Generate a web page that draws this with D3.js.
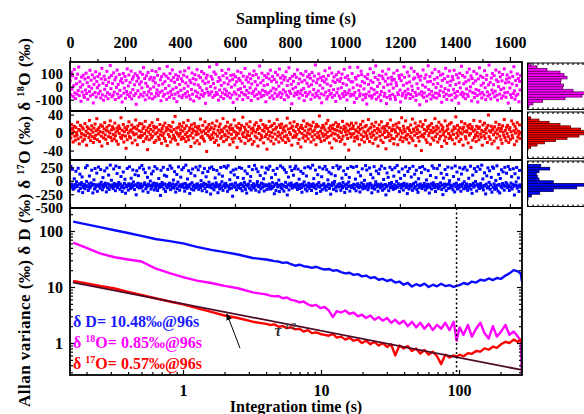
<!DOCTYPE html>
<html>
<head>
<meta charset="utf-8">
<script src="https://cdnjs.cloudflare.com/ajax/libs/d3/7.8.5/d3.min.js"></script>
<style>
body { margin: 0; background: #fff; }
text { font-family: "Liberation Serif", "Times New Roman", serif; font-weight: bold; }
</style>
</head>
<body>
<div id="chart"></div>
<script>
// ---- time series (sub-sampled, one value every sampleInterval seconds) ----
const sampleInterval = 2.05;

const d18O = [
  45, -62, 110, -18, 83, -75, 7, 132, -48, -91, 64, 22, -57, 96, -30, 151, -69, 38, -4, -112, 74, -41, 15, 88, -66,
  -83, 59, -26, 104, -52, 31, -97, 71, 2, -38, 126, -71, 50, -12, 91, -60, -125, 18, 67, -45, 115, -79, 40, -8, 78,
  -54, 12, 98, -35, -87, 60, 141, -63, 27, -104, 81, -20, 55, -73, 9, 118, -46, -92, 35, 69, -58, 163, -15, 86, -77,
  24, -65, 107, -42, 52, -99, 73, -5, 128, -56, 17, -84, 94, -28, 43, -70, 61, -118, 30, 102, -50, -11, 79, -89, 48,
  -37, 137, -61, 6, 90, -76, 33, -47, 120, -94, 58, -22, 76, -68, 14, 99, -53, -135, 42, 85, -31, 66, -80, 19, 112,
  -59, 37, -9, 95, -72, 147, -44, 63, -101, 26, 84, -64, 3, 109, -39, -86, 57, -17, 72, -55, 124, -93, 46, -2, 68,
  -78, 29, 116, -51, -25, 87, -67, 11, 139, -43, 53, -108, 77, -33, 21, -74, 97, -60, 39, -14, 82, -97, 156, -49, 65,
  8, -81, 101, -36, 47, -62, 129, -19, 70, -90, 34, -57, 92, -7, -115, 56, -44, 80, -71, 16, 114, -28, 61, -85, 41,
  -66, 89, -13, 122, -53, 28, -79, 75, -40, 5, 144, -69, 49, -96, 32, -21, 106, -58, 62, -110, 19, 93, -34, 54, -75,
  131, -47, 13, 83, -88, -6, 70, -61, 117, -30, 44, -73, 100, -52, 25, -128, 66, -16, 88, -42, 36, -65, 152, -55, 1,
  79, -39, 58, -82, 24, 113, -68, -10, 96, -45, 171, -59, 40, -103, 71, -26, 51, -77, 10, 125, -48, 84, -91, 30, -19,
  -60, 103, -34, 66, -72, 20, 134, -50, 45, -86, 87, -3, -63, 57, -121, 92, -41, 14, 76, -56, 38, -95, 119, -23, 63,
  -70, 48, -15, 108, -44, 27, -99, 81, -57, 0, 140, -64, 53, -29, 74, -84, 35, -47, 97, -9, 61, -106, 21, -52, 86,
  -36, 121, -73, 39, -18, 94, -61, 12, -92, 68, -43, 159, -54, 30, -78, 104, -27, 49, -67, 8, 85, -38, -116, 72, -58,
  16, 99, -46, 60, -85, 127, -32, 42, -69, 78, -11, -93, 55, -50, 110, -20, 34, -75, 90, -62, 4, 136, -44, 67, -83,
  28, -56, 84, -24, 52, -100, 73, -40, 115, -65, 9, 46, -79, 146, -35, 63, -52, 18, -131, 80, -16, 41, -71, 95, -48,
  -4, 72, -60, 130, -37, 23, -88, 59, -53, 101, -27, 37, -66, 89, -14, -107, 50, -45, 118, -74, 26, 76, -57, 3, 93,
  -41, 65, -97, 15, 109, -63, 44, -21, 82, -80, 167, -49, 31, -68, 57, -33, 98, -86, 10, 69, -55, -124, 47, -12, 78,
  -64, 36, 123, -42, 58, -94, 20, -76, 86, -30, 143, -59, 7, -51, 105, -82, 43, -23, 75, -67, 32, -113, 91, -46, 53,
  -17, 111, -70, 40, -89, 64, -8, 97, -54, 25, -76, 133, -37, 70, -61, 13, -102, 83, -49, 55, -26, 149, -72, 38, -58,
  102, 37, -8, -66, -121, -44, 71, 58, -90, 13, 149, 84, -29, -72, -55, 6, 119, 92, 40, -101, -63, -17, 29, 77, -84,
  -58, -133, 62, 95, 18, -40, -71, 138, 46, -12, -88, -69, 33, 108, -24, -57, 71, 160, -96, -45, 2, 54, -79, 87, 25,
  -62, -107, -37, 81, 119, 61, -5, -74, -51, 42, 96, -130, -82, 15, 66, 135, -33, -68, -94, 20, 73, 49, -59, -11, 104,
  57, -76, -99, 31, 8, 124, -47, -61, 86, 64, -26, -117, 47, 91, -70, -52, 11, 153, 72, -35, -86, -64, 27, 112, -19,
  -53, 83, 36, -91, -60, 142, 4, -28, -78, 59, 117, 68, -44, -105, -67, 23, 96, -13, 75, -56, -139, 50, 81, -39, -65,
  12, 129, -82, -48, 65, -3, 90, -111, -73, 37, 161, -22, -58, 78, 41, -95, -36, 106, -66, 19, -80, 57, 133, -49, -7,
  -87, 70, 24, -54, 116, -68, -31, 89, 3, -120, 48, 97, -41, -75, 62, -15, 141, -57, -98, 34, 80, -27, -69, 121, 9,
  43, -63, -104, 77, 55, -20, 126, -48, -85, 18, 92, -71, -37, 68, -127, 30, 103, -9, -59, 157, -43, 86, -77, 22, -54,
  74, -92, 38, -17, 109, -60, -74, 51, 136, -33, -1, 83, -109, 63, -46, 26, 118, -83, -52, 45, -21, 99, -68, -118, 60,
  -30, 145, -56, 82, 11, -87, -45, 71, 27, -64, 123, -8, -99, 56, 88, -40, -72, 14, 166, -61, 33, -93, 67, -26, 101,
  -49, 15, 85, -78, -35, 128, 52, -66, -103, 39, 0, 111, -57, 76, -22, -89, 45, 94, -71, -12, 137, -47, 29, -81, 58,
  90, -43, -126, 35, 68, -10, -62, 114, -84, 21, 79, -53, 154, -32, -96, 48, -70, 10, 98, -58, 63, -116, 41, -25, 85
];

const d17O = [
  5, -12, 18, -3, 9, -21, 2, 14, -8, -17, 11, 0, -6, 23, -14, 7, -25, 4, 16, -10, -2, 12, -19, 8, -5,
  -15, 20, -7, 3, -28, 13, -1, 9, -11, 27, -4, -18, 6, 15, -9, 1, -22, 10, -13, 19, -6, 4, 31, -16, 7,
  -3, 11, -20, 2, 17, -8, -30, 14, 0, -12, 8, 22, -5, -15, 5, 12, -24, 3, -9, 16, -1, 26, -11, 6, -18,
  13, -4, 8, -14, 21, -7, 1, -19, 10, 4, -26, 15, -2, 9, -10, 33, -13, 5, -6, 18, -21, 2, 11, -8, -35,
  7, -16, 14, -1, 24, -9, 3, -12, 6, 17, -23, 0, 10, -5, 12, -17, 28, -3, 8, -27, 15, -10, 4, 20, -7,
  -11, 2, 19, -6, 9, -20, 13, -2, 25, -14, 5, -9, -38, 11, 1, -16, 16, -4, 7, -12, 22, -8, 3, 14, -22,
  10, -3, -18, 12, 0, 29, -10, 6, -15, 18, -5, 3, -24, 9, -7, 15, -1, -13, 21, -19, 4, 11, -29, 8, -4,
  16, -9, 5, -21, 13, 2, -14, 23, -6, 7, -11, 36, -17, 1, 10, -3, -26, 12, -8, 19, -2, 6, -15, 14, -10,
  3, 22, -13, 9, -4, -20, 15, 0, -9, 27, -16, 5, 11, -7, -31, 17, -1, 8, -12, 4, 20, -23, 13, -5, 2,
  -18, 10, -3, 14, -25, 6, 30, -11, 1, -8, 16, -14, 4, -19, 24, -2, 9, -42, 12, -6, 3, 18, -10, 7, -15,
  11, -5, 21, -12, 0, 8, -22, 15, -3, -17, 26, -8, 5, -28, 13, -1, 19, -13, 6, -9, 2, 31, -20, 10, -4,
  -7, 14, -16, 4, 23, -10, -1, 12, -27, 7, 17, -4, -14, 9, -21, 3, 28, -12, 1, 15, -6, -33, 11, -2, 20,
  -13, 5, 9, -19, 16, -3, 34, -9, 0, 12, -24, 6, -11, 19, -5, 2, -18, 13, -7, 24, -15, 8, -1, -26, 10,
  4, -20, 17, -8, 1, 22, -12, 7, -30, 14, -2, 10, -16, 27, -6, -11, 5, 18, -23, 3, 11, -9, 15, -4, -37,
  9, -14, 2, 25, -7, 13, -19, 0, 16, -10, 6, -25, 20, -3, 8, -15, 12, 29, -8, 1, -21, 17, -5, 11, -12,
  19, -1, -17, 6, 12, -9, 3, -22, 15, -6, 32, -13, 8, -18, 0, 21, -4, 10, -28, 14, -11, 5, 24, -7, 2,
  -10, 13, -4, 18, -24, 7, -15, 1, 11, -32, 16, -2, 9, -12, 26, -6, 4, -19, 13, -8, 20, -1, -14, 6, 17,
  -3, 8, -21, 15, -9, 2, 23, -16, 5, -5, 12, -27, 18, -11, 0, 14, -7, 37, -13, 3, -20, 10, -2, 16, -8,
  12, -17, 6, -4, 20, -12, 1, 27, -9, 10, -23, 4, 15, -6, -34, 9, -1, 17, -14, 7, -3, 22, -18, 5, 13,
  -6, 18, -11, 3, -20, 11, 0, -15, 25, -8, 7, 14, -26, 2, 10, -5, 19, -13, 4, -39, 16, -2, 8, -10, 21,
  -4, 9, 15, -2, -19, -11, 6, 21, 3, -8, -14, 12, 0, -27, 7, 18, -5, -16, 10, 25, -9, 2, -21, 13, -1,
  16, -7, -13, 4, 29, 8, -20, -3, 11, -10, 19, 1, -24, -6, 14, 5, -15, 23, -12, -1, 9, -30, 6, 17, -8,
  2, -17, 24, 10, -5, -22, 13, 0, 7, -11, -36, 15, 3, 20, -9, -2, 11, -18, 28, -6, 4, -13, 8, 16, -25,
  -14, 6, 1, 19, -8, 12, -27, -3, 22, 9, -16, 4, -10, 33, -1, -20, 14, 7, -12, 2, 26, -7, -15, 10, -4,
  11, -23, 5, -9, 17, 0, -13, 30, -18, 8, 3, -6, 21, -29, 12, -2, 6, -11, 15, -19, 1, 24, -8, -40, 13,
  -5, 18, -10, 7, -2, 27, -16, 4, -22, 13, 9, -7, -1, 16, -26, 5, 20, -12, 0, 11, -17, 3, 31, -9, 6,
  14, -3, -21, 10, 23, -14, 2, -8, 17, -31, 7, 12, -5, 1, -18, 26, -10, 4, -24, 15, 8, -2, -13, 19, -6,
  -11, 22, 3, -16, 6, -4, 13, -25, 9, 35, -12, -1, 16, -7, 5, -20, 11, 0, -15, 24, -3, 8, -28, 12, 2,
  20, -9, -14, 4, 1, 15, -23, 10, -6, 18, -2, -33, 8, 13, -17, 3, 27, -11, 6, -5, -20, 14, 0, -8, 9,
  -16, 12, 25, -3, -10, 5, -28, 17, 2, -7, 21, -13, 7, -1, 11, -22, 16, 39, -9, 4, -15, 1, 14, -25, 6,
  8, -5, -19, 13, 0, 23, -12, 6, -3, -34, 10, 18, -8, 3, -16, 9, -24, 15, 1, -6, 29, -11, 5, -18, 12,
  -2, 16, -9, -22, 7, 11, -15, 2, 26, -6, -12, 19, 4, -27, 14, -1, 8, -19, 22, -10, 3, -4, 17, -13, 0
];

const dD = [
  -82, 265, -121, -63, 214, -158, -95, 37, -134, -71, 176, -18, -108, -87, 232, -189, -56, 123, -143, -77, -35, 71, -219, -99, -126,
  -68, -147, 242, -91, -12, 281, -113, -179, -59, 88, -131, -104, -40, 196, -83, -225, -66, 18, -152, 227, -118, -74, 142, -195, -89,
  254, -101, -62, -138, 208, -28, -85, -167, 59, -119, -72, 183, -44, -93, -206, 236, -129, -57, 106, -161, -80, 290, -110, 9, -96,
  -76, -145, 219, -52, -103, -184, 273, -67, 134, -125, -88, -31, 247, -157, -61, 78, -116, -199, -94, 163, -136, -49, 27, -231, -79,
  -114, 228, -86, -173, -55, 259, -98, -142, 47, -65, -120, 201, -22, -90, -162, 113, -73, -260, 186, -107, -47, 95, -133, 241, -84,
  -58, -127, 283, -100, -190, 215, -70, -39, 151, -148, -81, -112, 64, -214, -63, 238, -92, -6, -155, 128, -117, -75, 178, -43, -170,
  262, -97, -139, -54, 223, -181, -87, 41, -124, -66, -272, 194, -109, -33, -78, 249, -150, 102, -60, -198, -95, 83, -130, 211, -71,
  -105, -46, 276, -164, -83, 233, -122, -58, 14, -137, 169, -91, -210, -69, 117, -146, -25, 257, -101, -176, -74, 66, -115, 205, -86,
  -61, 244, -128, -193, -50, 289, -93, -140, 33, -79, 187, -118, -236, -64, 139, -156, -37, 218, -104, -172, -82, 92, -131, 252, -68,
  -111, -57, 203, -160, -89, 270, -125, 3, -72, -185, 149, -98, -44, 226, -141, -67, 74, -203, -106, 172, -84, -27, 234, -120, -246,
  -77, 256, -134, -60, 209, -168, -92, 52, -115, -38, 191, -80, -221, -103, 125, -151, -70, 246, -129, -19, 86, -178, -96, 267, -63,
  -123, -48, 239, -87, -196, 278, -108, -154, 21, -73, 158, -136, -62, -287, 198, -94, 109, -119, -41, 217, -166, -81, 61, -127, -99,
  248, -69, -144, -53, 230, -186, -85, 44, -113, -30, 181, -159, -76, -228, 131, -102, -64, 264, -139, -8, 80, -171, -90, 207, -121,
  -56, -132, 285, -97, -175, 221, -67, -15, 167, -110, -206, -84, 98, -148, -45, 253, -118, -61, 36, -190, -100, 144, -74, 237, -163,
  -88, 212, -126, -59, 268, -153, -95, 57, -137, -36, 193, -107, -241, -71, 120, -182, -50, 229, -114, -78, 12, -201, -89, 275, -130,
  -65, -149, 243, -82, -192, 204, -104, -29, 154, -123, -263, -76, 69, -169, -58, 258, -97, -42, 190, -135, -85, 103, -112, 224, -68,
  271, -117, -51, -161, 216, -91, 30, -143, -73, 175, -128, -213, -62, 136, -99, -21, 240, -154, -80, 89, -188, -106, 260, -47, -139,
  -93, 235, -71, -180, -109, 287, -57, 40, -124, -86, 199, -147, -234, -66, 112, -101, -34, 251, -119, -196, -83, 75, -165, 220, -77,
  -55, -133, 266, -96, -174, 206, -110, 17, -63, 160, -142, -79, -249, 127, -92, -40, 245, -158, -68, -12, 94, -121, -187, 279, -102,
  -72, 222, -116, -54, 255, -177, -88, 48, -130, -31, 184, -100, -217, -75, 115, -145, -60, 231, -108, -24, 62, -191, -94, 263, -126,
  -91, -118, 247, -64, -143, -77, 31, -186, 266, -102, -55, 158, -129, -85, -208, 92, -112, -41, 221, -150, -70, -96, 8, -137, 280,
  -106, 199, -61, -166, -89, -123, 238, -48, 117, -80, -223, -135, 54, -97, 261, -155, -73, -18, 181, -114, -66, -195, 132, -88, 213,
  -131, -59, 272, -103, -176, -82, 24, -148, 229, -69, -262, -116, 145, -93, 64, -184, -51, 250, -127, -76, -33, 206, -109, -160, 85,
  -74, 241, -140, -95, -11, 283, -120, -57, 166, -201, -84, 43, -134, -67, 219, -100, -173, -46, 101, -90, 258, -126, -62, -237, 173,
  -98, -154, 229, -71, -117, 70, -87, -179, 268, -53, -138, 122, -107, -26, 195, -164, -79, -215, 38, -124, 244, -60, -93, 150, -145,
  262, -83, -112, -49, 214, -171, -101, 15, -136, -65, 188, -94, -227, -119, 97, -58, -153, 276, -86, -37, 233, -128, -72, -199, 58,
  -115, 225, -68, -146, -92, 286, -105, -39, 139, -162, -78, -256, 49, -125, -61, 209, -97, -183, 114, -70, 254, -141, -52, 1, -132,
  -81, -121, 236, -99, -167, 79, -64, -207, 274, -110, -45, 161, -152, -88, 27, -130, 242, -73, -194, 126, -104, -56, 217, -149, -20,
  251, -94, -139, -60, 197, -178, -108, 46, -122, -71, 270, -157, -85, -233, 105, -47, -116, 226, -91, -14, 171, -189, -66, 260, -113,
  -77, -144, 213, -52, -102, 289, -128, 33, -170, -86, 147, -98, -244, -63, 91, -135, 239, -111, -29, 185, -158, -74, 63, -212, 256,
  -119, 231, -58, -159, -96, 5, -142, 277, -83, -191, 119, -67, -226, 42, -106, 204, -131, -50, 165, -87, -174, 248, -101, -35, 140,
  -62, -127, 265, -90, -180, 210, -114, -43, 76, -151, -69, 223, -103, -265, 131, -82, -22, 247, -137, -95, 52, -198, 192, -75, -118
];

// ---- histograms (bin edges, counts) ----
const d18OHistEdges = [-160, -140, -120, -100, -80, -60, -40, -20, 0, 20, 40, 60, 80, 100, 120, 140, 160, 180];
const d18OHistCounts = [15, 55, 150, 375, 545, 570, 455, 350, 360, 330, 335, 395, 365, 325, 195, 95, 35];

const d17OHistEdges = [-40, -35, -30, -25, -20, -15, -10, -5, 0, 5, 10, 15, 20, 25, 30, 35];
const d17OHistCounts = [5, 32, 95, 170, 280, 395, 515, 565, 570, 530, 430, 325, 215, 115, 32];

const dDHistEdges = [-400, -350, -300, -250, -200, -150, -100, -50, 0, 50, 100, 150, 200, 250, 300];
const dDHistCounts = [2, 5, 38, 122, 258, 492, 565, 258, 115, 98, 88, 115, 222, 132];

// ---- Allan variance ----
const tau = [0.16, 0.2, 0.25, 0.32, 0.4, 0.5, 0.63, 0.8, 1.0, 1.26, 1.6, 2.0, 2.5, 3.2,
  4.0, 4.29, 4.6, 4.93, 5.28, 5.66, 6.07, 6.51, 6.98, 7.48, 8.02, 8.6, 9.22, 9.88, 10.6, 11.4, 12.2, 13.0, 14.0, 15.0,
  16.1, 17.2, 18.5, 19.8, 21.2, 22.8, 24.4, 26.2, 28.0, 30.1, 32.2, 34.5, 37.0, 39.7, 42.6, 45.6, 48.9, 52.4, 56.2, 60.3,
  64.6, 69.3, 74.3, 79.6, 85.4, 91.5, 96, 101, 108, 116, 124, 133, 143, 153, 164, 176, 188, 202, 217, 232, 249, 267, 280, 286];
const allanD = [147, 131, 117, 103, 92, 82, 72, 66, 60, 52, 46, 42, 38, 33,
  31, 30, 29, 28.5, 27, 27.5, 25.5, 24, 25, 23.5, 23, 22, 23, 21.5, 20.5, 21, 19.5, 20, 18.5, 17.5,
  18, 16.5, 17, 15.5, 16, 14.5, 15, 13.5, 14, 12.8, 13.5, 12, 12.5, 11, 11.8, 10.2, 11.2, 10.5, 11.5, 10,
  11, 10.3, 11.4, 10.4, 10.8, 10, 10.5, 10.8, 11.8, 11.2, 12.5, 12, 13.5, 13, 14.2, 13.3, 14.5, 14, 16, 17.5, 20, 19, 17.5, 12.5];
const allan18O = [62, 50, 40, 34, 31, 28.5, 21.5, 17.7, 15, 13, 11.8, 10.5, 9.5, 8,
  7.4, 7.0, 6.8, 6.9, 6.3, 6.5, 5.9, 5.7, 5.3, 5.5, 4.9, 4.6, 4.8, 4.2, 4.4, 3.8, 2.9, 3.7, 3.5, 3.8,
  3.3, 3.5, 3.0, 3.2, 2.8, 3.1, 2.6, 2.9, 2.5, 2.8, 2.3, 2.6, 2.2, 2.5, 2.0, 2.4, 1.9, 2.3, 1.8, 2.2,
  1.7, 2.1, 1.8, 2.3, 1.7, 2.4, 1.1, 1.9, 1.4, 2.1, 1.3, 1.8, 2.3, 1.5, 1.2, 2.0, 1.3, 1.6, 2.1, 1.4, 1.6, 1.3, 1.1, 0.25];
const allan17O = [12.8, 11.6, 10.4, 9.4, 8.2, 7.2, 6.3, 5.5, 4.9, 4.2, 3.6, 3.1, 2.8, 2.4,
  2.2, 2.1, 2.15, 1.95, 2.0, 1.85, 1.9, 1.75, 1.8, 1.6, 1.7, 1.5, 1.55, 1.45, 1.4, 1.35, 1.45, 1.25, 1.3, 1.15,
  1.25, 1.1, 1.15, 1.0, 1.1, 0.95, 1.05, 0.9, 1.0, 0.85, 0.95, 0.6, 0.9, 0.8, 0.88, 0.72, 0.8, 0.65, 0.75, 0.62,
  0.7, 0.58, 0.42, 0.62, 0.55, 0.6, 0.57, 0.62, 0.58, 0.66, 0.64, 0.72, 0.7, 0.8, 0.76, 0.86, 0.82, 0.95, 1.05, 1.0, 1.15, 1.05, 1.15, 1.0];

// tau^-1/2 reference line end points
const slopeLine = [[0.159, 12.1], [286, 0.33]];
const optimalTau = 96;
const legendNames = ["D", "18O", "17O"];
const legendValues = [10.48, 0.85, 0.57];

const sampleTicks = [0, 200, 400, 600, 800, 1000, 1200, 1400, 1600];
const allanTicks = [1, 10, 100];

// ---- layout ----
const width = 584, height = 414;
const plotLeft = 70, plotRight = 522;
const histLeft = 527.5;
const allanTop = 208, allanBottom = 375;
const dot = 3;

const svg = d3.select("#chart").append("svg")
    .attr("width", width)
    .attr("height", height);

const defs = svg.append("defs");

function styleAxis(g, size) {
    g.attr("font-family", "Liberation Serif, serif")
        .attr("font-size", size || 16)
        .attr("font-weight", "bold");
    g.select(".domain").remove();
    g.selectAll(".tick line").attr("stroke", "#000").attr("stroke-width", 1.2);
    g.selectAll(".tick text").attr("fill", "#000");
}

const xTime = d3.scaleLinear().domain([0, 1644]).range([plotLeft, plotRight]);
const xHist = d3.scaleLinear().domain([0, 560]).range([histLeft, histLeft + 56]);

// top axis
svg.append("g")
    .attr("transform", `translate(0,62)`)
    .call(d3.axisTop(xTime).tickValues(sampleTicks).tickSize(5).tickPadding(9).tickFormat(d => String(d)))
    .call(styleAxis);
svg.append("g")
    .attr("transform", `translate(0,62)`)
    .call(d3.axisTop(xTime).tickValues(d3.range(100, 1700, 200)).tickSize(3).tickFormat(""))
    .call(styleAxis);

svg.append("text")
    .attr("x", 296).attr("y", 24)
    .attr("text-anchor", "middle")
    .attr("font-size", 16)
    .text("Sampling time (s)");

// scatter panels with histograms
const panels = [
    {id: "p18", values: d18O, edges: d18OHistEdges, counts: d18OHistCounts, top: 62, bottom: 111,
        domain: [-187, 190], ticks: [-100, 0, 100], fill: "#ff00ff", dark: "#5a005a"},
    {id: "p17", values: d17O, edges: d17OHistEdges, counts: d17OHistCounts, top: 111, bottom: 160,
        domain: [-61, 48], ticks: [-40, 0, 40], fill: "#ff0000", dark: "#5a0000"},
    {id: "pD", values: dD, edges: dDHistEdges, counts: dDHistCounts, top: 160, bottom: 208,
        domain: [-505, 385], ticks: [-500, -250, 0, 250], fill: "#0000ff", dark: "#00004a"}
];

panels.forEach(p => {
    const y = d3.scaleLinear().domain(p.domain).range([p.bottom, p.top]);

    defs.append("clipPath").attr("id", "clip-" + p.id)
        .append("rect")
        .attr("x", plotLeft).attr("y", p.top)
        .attr("width", plotRight - plotLeft).attr("height", p.bottom - p.top);

    svg.append("g")
        .attr("clip-path", `url(#clip-${p.id})`)
        .selectAll("rect")
        .data(p.values)
        .join("rect")
        .attr("x", (d, i) => xTime((i + 0.5) * sampleInterval) - dot / 2)
        .attr("y", d => y(d) - dot / 2)
        .attr("width", dot)
        .attr("height", dot)
        .attr("fill", p.fill);

    svg.append("g")
        .attr("transform", `translate(${plotLeft},0)`)
        .call(d3.axisLeft(y).tickValues(p.ticks).tickSize(-4).tickPadding(7).tickFormat(d => String(d)))
        .call(g => styleAxis(g, 15));

    // inward ticks on the panel bottom
    svg.append("g")
        .attr("transform", `translate(0,${p.bottom})`)
        .call(d3.axisBottom(xTime).tickValues(sampleTicks).tickSize(-4).tickFormat(""))
        .call(styleAxis);

    svg.append("rect")
        .attr("x", plotLeft).attr("y", p.top)
        .attr("width", plotRight - plotLeft).attr("height", p.bottom - p.top)
        .attr("fill", "none").attr("stroke", "#000").attr("stroke-width", 1.8);

    // histogram
    const hTop = p.top + 1, hBottom = p.bottom - 1.5;
    svg.append("g")
        .selectAll("rect")
        .data(p.counts)
        .join("rect")
        .attr("x", xHist(0))
        .attr("y", (d, i) => y(p.edges[i + 1]))
        .attr("width", d => xHist(d) - xHist(0))
        .attr("height", (d, i) => y(p.edges[i]) - y(p.edges[i + 1]))
        .attr("fill", p.fill)
        .attr("stroke", p.dark)
        .attr("stroke-width", 0.8);

    svg.append("rect")
        .attr("x", histLeft).attr("y", hTop)
        .attr("width", 80).attr("height", hBottom - hTop)
        .attr("fill", "none").attr("stroke", "#000").attr("stroke-width", 1);

    const hTicks = d3.range(0, 600, 50);
    svg.append("g").attr("transform", `translate(0,${hTop})`)
        .call(d3.axisBottom(xHist).tickValues(hTicks).tickSize(2).tickFormat(""))
        .call(styleAxis);
    svg.append("g").attr("transform", `translate(0,${hBottom})`)
        .call(d3.axisTop(xHist).tickValues(hTicks).tickSize(2).tickFormat(""))
        .call(styleAxis);
});

// ---- Allan variance panel ----
const xTau = d3.scaleLog().domain([0.1518, 286.1]).range([plotLeft, plotRight]);
const yAllan = d3.scaleLog().domain([0.2683, 257.5]).range([allanBottom, allanTop]);

const minorX = [], minorY = [];
[-1, 0, 1, 2].forEach(k => {
    for (let m = 2; m <= 9; m++) {
        const v = m * Math.pow(10, k);
        if (v > 0.1518 && v < 286.1) minorX.push(v);
        if (v > 0.2683 && v < 257.5) minorY.push(v);
    }
});

defs.append("clipPath").attr("id", "clip-allan")
    .append("rect")
    .attr("x", plotLeft).attr("y", allanTop)
    .attr("width", plotRight - plotLeft).attr("height", allanBottom - allanTop);

const allanSeries = [
    {values: allanD, color: "#0a0aff"},
    {values: allan18O, color: "#ff00ff"},
    {values: allan17O, color: "#ff0000"}
];

const line = d3.line()
    .x(d => xTau(d[0]))
    .y(d => yAllan(d[1]));

const allanG = svg.append("g").attr("clip-path", "url(#clip-allan)");

allanG.selectAll("path.allan")
    .data(allanSeries)
    .join("path")
    .attr("class", "allan")
    .attr("d", s => line(d3.zip(tau, s.values)))
    .attr("fill", "none")
    .attr("stroke", s => s.color)
    .attr("stroke-width", 2.4)
    .attr("stroke-linejoin", "round");

allanG.append("path")
    .attr("d", line(slopeLine))
    .attr("fill", "none")
    .attr("stroke", "#4d0a26")
    .attr("stroke-width", 1.8);

allanG.append("line")
    .attr("x1", xTau(optimalTau)).attr("x2", xTau(optimalTau))
    .attr("y1", allanTop).attr("y2", allanBottom)
    .attr("stroke", "#000")
    .attr("stroke-width", 1.5)
    .attr("stroke-dasharray", "2,2.5");

// axes
svg.append("g")
    .attr("transform", `translate(0,${allanBottom})`)
    .call(d3.axisBottom(xTau).tickValues(allanTicks).tickSize(-5).tickPadding(10).tickFormat(d => String(d)))
    .call(styleAxis);
svg.append("g")
    .attr("transform", `translate(0,${allanBottom})`)
    .call(d3.axisBottom(xTau).tickValues(minorX).tickSize(-3).tickFormat(""))
    .call(styleAxis);
svg.append("g")
    .attr("transform", `translate(${plotLeft},0)`)
    .call(d3.axisLeft(yAllan).tickValues(allanTicks).tickSize(-5).tickPadding(7).tickFormat(d => String(d)))
    .call(styleAxis);
svg.append("g")
    .attr("transform", `translate(${plotLeft},0)`)
    .call(d3.axisLeft(yAllan).tickValues(minorY).tickSize(-3).tickFormat(""))
    .call(styleAxis);
svg.append("g")
    .attr("transform", `translate(${plotRight},0)`)
    .call(d3.axisRight(yAllan).tickValues(allanTicks).tickSize(-5).tickFormat(""))
    .call(styleAxis);
svg.append("g")
    .attr("transform", `translate(${plotRight},0)`)
    .call(d3.axisRight(yAllan).tickValues(minorY).tickSize(-3).tickFormat(""))
    .call(styleAxis);

svg.append("rect")
    .attr("x", plotLeft).attr("y", allanTop)
    .attr("width", plotRight - plotLeft).attr("height", allanBottom - allanTop)
    .attr("fill", "none").attr("stroke", "#000").attr("stroke-width", 1.8);

// arrow + tau label
defs.append("marker")
    .attr("id", "arrow")
    .attr("viewBox", "0 0 10 10")
    .attr("refX", 9).attr("refY", 5)
    .attr("markerWidth", 7).attr("markerHeight", 7)
    .attr("orient", "auto")
    .append("path")
    .attr("d", "M0,1L10,5L0,9Z")
    .attr("fill", "#000");

svg.append("line")
    .attr("x1", xTau(2.59)).attr("y1", yAllan(0.81))
    .attr("x2", xTau(2.08)).attr("y2", yAllan(3.3))
    .attr("stroke", "#000")
    .attr("stroke-width", 1)
    .attr("marker-end", "url(#arrow)");

const tauLabel = svg.append("text")
    .attr("x", xTau(4.6)).attr("y", yAllan(1.33))
    .attr("font-size", 16)
    .attr("font-weight", "normal")
    .attr("font-style", "italic")
    .attr("fill", "#333");
tauLabel.append("tspan").text("τ");
tauLabel.append("tspan").attr("font-size", 9).attr("dy", -7).text("-1/2");

// legend
const legendColors = ["#1a1aff", "#ff00ff", "#ff0000"];
const legendY = [327, 348, 369];
legendNames.forEach((name, i) => {
    const t = svg.append("text")
        .attr("x", 73).attr("y", legendY[i])
        .attr("font-size", 16)
        .attr("fill", legendColors[i]);
    const iso = name.match(/^(\d*)(\D+)$/);
    t.append("tspan").text("δ ");
    if (iso[1]) {
        t.append("tspan").attr("font-size", 10).attr("dy", -6).text(iso[1]);
        t.append("tspan").attr("dy", 6).text(iso[2]);
    } else {
        t.append("tspan").text(iso[2]);
    }
    t.append("tspan").text(`= ${legendValues[i]}‰@${optimalTau}s`);
});

svg.append("text")
    .attr("x", 296).attr("y", 412)
    .attr("text-anchor", "middle")
    .attr("font-size", 16)
    .text("Integration time (s)");

// y label (one rotated string over all panels)
const yLabel = svg.append("text")
    .attr("transform", "translate(30,407) rotate(-90)")
    .attr("font-size", 17)
    .attr("textLength", 369)
    .attr("lengthAdjust", "spacing");
yLabel.append("tspan").text("Allan variance (‰) δ D (‰) δ ");
yLabel.append("tspan").attr("font-size", 10).attr("dy", -6).text("17");
yLabel.append("tspan").attr("dy", 6).text("O (‰) δ ");
yLabel.append("tspan").attr("font-size", 10).attr("dy", -6).text("18");
yLabel.append("tspan").attr("dy", 6).text("O (‰)");
</script>
</body>
</html>
